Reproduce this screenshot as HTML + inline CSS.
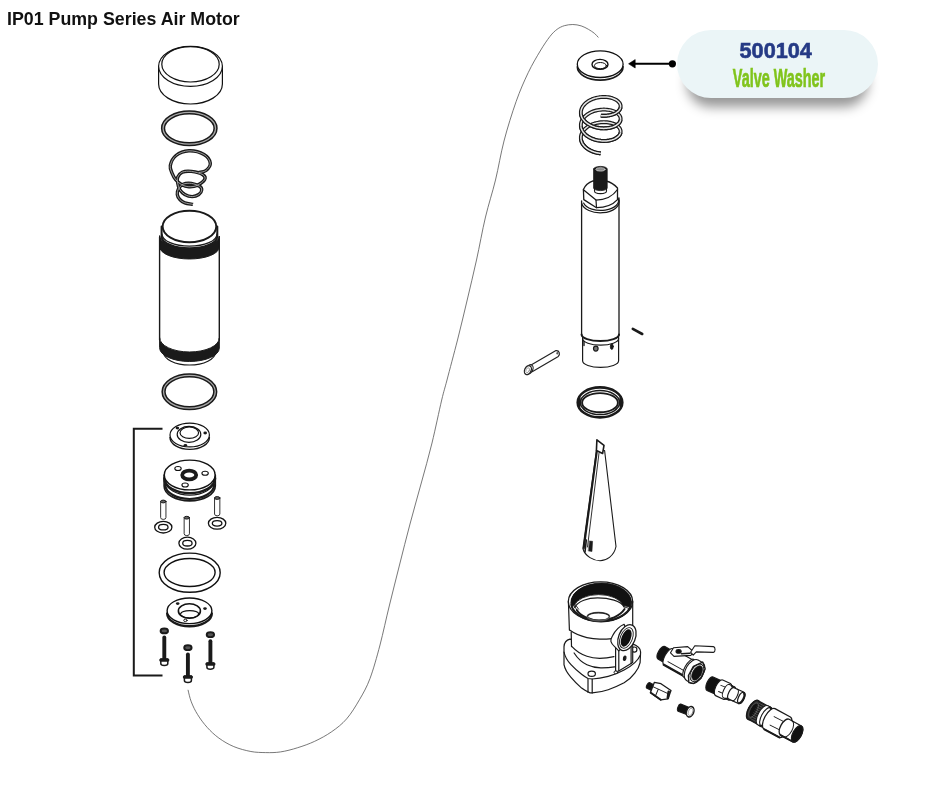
<!DOCTYPE html>
<html><head><meta charset="utf-8">
<style>
html,body{margin:0;padding:0;background:#fff;}
body{width:940px;height:788px;position:relative;overflow:hidden;font-family:"Liberation Sans",sans-serif;}
#title{position:absolute;left:6.6px;top:9.4px;transform:scaleX(1.017);font-weight:bold;font-size:17.5px;color:#111;white-space:nowrap;transform-origin:0 0;}
#pill{position:absolute;left:677px;top:29.5px;width:201px;height:68.5px;border-radius:34.25px;background:#ebf5f7;box-shadow:0 19px 12px -10px rgba(0,0,0,0.41);}
#pn{position:absolute;left:676px;top:38.2px;width:200px;text-align:center;font-weight:bold;font-size:22.6px;color:#253a85;-webkit-text-stroke:0.6px #253a85;}
#pd{position:absolute;left:679px;top:63.6px;width:200px;text-align:center;font-weight:bold;font-size:25.9px;color:#80c41c;-webkit-text-stroke:0.7px #80c41c;}
svg{position:absolute;left:0;top:0;}
#dia{filter:blur(0.35px);}
</style></head><body>
<div id="pill"></div>
<div id="pn"><span style="display:inline-block;transform:scaleX(0.96);">500104</span></div>
<div id="pd"><span style="display:inline-block;transform:scaleX(0.556);">Valve Washer</span></div>
<div id="title">IP01 Pump Series Air Motor</div>
<svg id="dia" width="940" height="788" viewBox="0 0 940 788" fill="none" stroke="#111" stroke-width="1.2" stroke-linecap="round" stroke-linejoin="round">
<!-- CURVE -->
<path d="M188.1 690.2 C188.6 692.2 189.7 697.8 191.3 701.9 C192.9 706.0 195.0 710.5 197.7 714.7 C200.3 719.0 203.7 723.5 207.2 727.4 C210.7 731.3 214.5 734.9 218.9 738.1 C223.3 741.3 228.5 744.4 233.8 746.6 C239.1 748.8 245.6 750.5 250.9 751.5 C256.2 752.5 260.8 752.5 265.7 752.6 C270.6 752.7 275.3 752.7 280.6 751.9 C285.9 751.1 292.0 749.5 297.7 747.7 C303.4 745.9 309.0 744.0 314.7 741.3 C320.4 738.6 326.4 735.4 331.7 731.7 C337.0 728.0 342.0 724.2 346.6 718.9 C351.2 713.6 355.5 706.5 359.4 699.8 C363.3 693.1 366.6 687.6 370.0 678.5 C373.4 669.4 376.8 657.2 380.0 645.0 C383.2 632.8 386.2 618.3 389.5 605.0 C392.8 591.7 396.1 578.5 399.5 565.0 C402.9 551.5 406.4 537.5 410.0 524.0 C413.6 510.5 417.3 497.5 421.0 484.0 C424.7 470.5 428.6 457.0 432.0 443.0 C435.4 429.0 439.2 410.5 441.7 400.0 C444.2 389.5 444.4 390.0 447.0 380.0 C449.6 370.0 454.1 353.3 457.5 340.0 C460.9 326.7 464.0 313.3 467.2 300.0 C470.4 286.7 473.4 273.8 476.5 260.0 C479.6 246.2 482.3 230.3 485.5 217.0 C488.7 203.7 492.4 192.7 495.5 180.0 C498.6 167.3 500.6 154.1 504.0 141.0 C507.4 127.9 512.1 113.0 516.1 101.6 C520.1 90.2 524.2 81.1 528.2 72.7 C532.2 64.3 536.6 57.0 540.2 51.0 C543.8 45.0 547.1 40.1 549.9 36.5 C552.7 32.9 554.7 31.1 557.1 29.3 C559.5 27.5 561.7 26.5 564.3 25.7 C566.9 24.9 570.0 24.5 572.8 24.5 C575.6 24.5 578.6 25.1 581.2 25.9 C583.8 26.7 586.2 28.1 588.4 29.3 C590.6 30.6 592.9 32.1 594.5 33.4 C596.1 34.7 597.5 36.6 598.1 37.2" stroke="#555" stroke-width="0.8"/>
<path d="M158.6 66.3 L158.6 84 A31.9 20 0 0 0 222.4 84 L222.4 66.3" fill="#fff"/>
<ellipse cx="190.5" cy="66.3" rx="31.9" ry="20" fill="#fff"/>
<ellipse cx="190.5" cy="64.3" rx="28.7" ry="17.7" />
<ellipse cx="189.3" cy="128.3" rx="26.25" ry="15.85" stroke="#1a1a1a" stroke-width="4.3"/>
<ellipse cx="189.3" cy="128.3" rx="26.25" ry="15.85" stroke="#a8a8a8" stroke-width="1.2999999999999998"/>
<path d="M198.8 172.6 C200.0 172.2 204.1 172.1 206.0 170.5 C207.9 168.9 210.6 165.9 210.3 163.2 C210.0 160.5 207.6 156.6 204.0 154.5 C200.4 152.4 193.6 150.6 188.9 150.8 C184.2 151.0 179.1 153.0 176.0 155.5 C172.9 158.0 170.9 162.5 170.3 165.6 C169.7 168.7 171.5 171.6 172.4 173.9 C173.3 176.2 174.2 177.9 175.7 179.7 C177.2 181.5 179.3 183.4 181.5 184.6 C183.7 185.8 186.3 186.6 188.9 186.7 C191.5 186.8 194.5 186.6 197.1 185.4 C199.7 184.2 203.6 181.5 204.6 179.7 C205.6 177.9 205.1 176.1 202.9 174.7 C200.7 173.3 194.8 171.8 191.4 171.4 C188.0 171.0 184.6 171.2 182.3 172.2 C180.0 173.2 178.5 175.4 177.7 177.2 C176.9 179.0 177.3 180.9 177.7 183.0 C178.0 185.1 178.6 187.7 179.8 189.6 C181.0 191.5 182.7 193.3 184.8 194.5 C186.9 195.7 189.9 196.6 192.2 196.6 C194.5 196.6 197.2 195.6 198.8 194.5 C200.4 193.4 201.6 191.4 201.7 190.0 C201.8 188.6 201.3 187.4 199.6 186.3 C197.9 185.2 194.2 183.8 191.4 183.4 C188.7 183.1 185.2 183.3 183.1 184.2 C181.0 185.1 179.6 187.0 178.6 188.7 C177.6 190.4 177.1 192.7 177.3 194.5 C177.5 196.3 178.6 198.1 179.8 199.5 C181.1 200.9 182.6 202.0 184.8 202.8 C187.0 203.6 191.6 204.1 193.0 204.4" stroke="#1a1a1a" stroke-width="3.4" stroke-linecap="butt"/>
<path d="M198.8 172.6 C200.0 172.2 204.1 172.1 206.0 170.5 C207.9 168.9 210.6 165.9 210.3 163.2 C210.0 160.5 207.6 156.6 204.0 154.5 C200.4 152.4 193.6 150.6 188.9 150.8 C184.2 151.0 179.1 153.0 176.0 155.5 C172.9 158.0 170.9 162.5 170.3 165.6 C169.7 168.7 171.5 171.6 172.4 173.9 C173.3 176.2 174.2 177.9 175.7 179.7 C177.2 181.5 179.3 183.4 181.5 184.6 C183.7 185.8 186.3 186.6 188.9 186.7 C191.5 186.8 194.5 186.6 197.1 185.4 C199.7 184.2 203.6 181.5 204.6 179.7 C205.6 177.9 205.1 176.1 202.9 174.7 C200.7 173.3 194.8 171.8 191.4 171.4 C188.0 171.0 184.6 171.2 182.3 172.2 C180.0 173.2 178.5 175.4 177.7 177.2 C176.9 179.0 177.3 180.9 177.7 183.0 C178.0 185.1 178.6 187.7 179.8 189.6 C181.0 191.5 182.7 193.3 184.8 194.5 C186.9 195.7 189.9 196.6 192.2 196.6 C194.5 196.6 197.2 195.6 198.8 194.5 C200.4 193.4 201.6 191.4 201.7 190.0 C201.8 188.6 201.3 187.4 199.6 186.3 C197.9 185.2 194.2 183.8 191.4 183.4 C188.7 183.1 185.2 183.3 183.1 184.2 C181.0 185.1 179.6 187.0 178.6 188.7 C177.6 190.4 177.1 192.7 177.3 194.5 C177.5 196.3 178.6 198.1 179.8 199.5 C181.1 200.9 182.6 202.0 184.8 202.8 C187.0 203.6 191.6 204.1 193.0 204.4" stroke="#aaa" stroke-width="0.9" stroke-linecap="butt"/>
<path d="M159.6 237 L159.6 340 A29.85 14 0 0 0 219.3 340 L219.3 237 Z" fill="#fff" stroke="none"/>
<path d="M159.6 236 A29.85 12 0 0 0 219.3 236 L219.3 247 A29.85 12 0 0 1 159.6 247 Z" fill="#1a1a1a" stroke="#1a1a1a" stroke-width="1"/>
<path d="M161.6 226.5 L161.6 237 A27.9 12 0 0 0 217.3 237 L217.3 226.5" fill="#fff" stroke="#1a1a1a" stroke-width="2.0"/>
<path d="M162 234.2 A27.5 12 0 0 0 217 234.2" stroke="#1a1a1a" stroke-width="1.3"/>
<ellipse cx="189.45" cy="226.5" rx="26.8" ry="15.8" fill="#fff" stroke="#1a1a1a" stroke-width="1.9"/>
<path d="M159.6 237 L159.6 340 M219.3 237 L219.3 340" stroke="#1a1a1a" stroke-width="1.4"/>
<path d="M159.6 338 A29.85 14 0 0 0 219.3 338 L219.3 348 A29.85 13.5 0 0 1 159.6 348 Z" fill="#1a1a1a" stroke="#1a1a1a" stroke-width="1"/>
<path d="M163.5 352 A26 13 0 0 0 215.5 352" stroke="#1a1a1a" stroke-width="1.2"/>
<ellipse cx="189.4" cy="391.8" rx="25.85" ry="16.35" stroke="#1a1a1a" stroke-width="4.3"/>
<ellipse cx="189.4" cy="391.8" rx="25.85" ry="16.35" stroke="#a8a8a8" stroke-width="1.2999999999999998"/>
<path d="M162.5 428.8 L133.8 428.8 L133.8 675.5 L162.5 675.5" stroke="#1a1a1a" stroke-width="2" stroke-linecap="butt" stroke-linejoin="miter"/>
<path d="M170.0 437.5 A19.7 11.9 0 0 0 209.39999999999998 437.5" stroke="#1a1a1a" stroke-width="1.4"/>
<ellipse cx="189.7" cy="435" rx="19.7" ry="11.9" fill="#fff"/>
<ellipse cx="189" cy="434.4" rx="11.8" ry="8" />
<ellipse cx="189.3" cy="432.7" rx="9.3" ry="5.7" />
<ellipse cx="177.4" cy="428.1" rx="1.8" ry="1.4" fill="#1a1a1a" stroke="none"/>
<ellipse cx="205.2" cy="433" rx="1.8" ry="1.4" fill="#1a1a1a" stroke="none"/>
<ellipse cx="185.4" cy="445.3" rx="1.8" ry="1.4" fill="#1a1a1a" stroke="none"/>
<path d="M164.1 475 L164.1 486 A25.6 14.9 0 0 0 215.29999999999998 486 L215.29999999999998 475" fill="#fff" stroke="#1a1a1a" stroke-width="1.6"/>
<path d="M165.2 484.5 A24.5 14.5 0 0 0 214.2 484.5" stroke="#1a1a1a" stroke-width="2.2"/>
<path d="M165.7 481 A24 14.2 0 0 0 213.7 481" stroke="#1a1a1a" stroke-width="1.2"/>
<path d="M164.29999999999998 478.2 A25.4 14.9 0 0 0 215.1 478.2" stroke="#1a1a1a" stroke-width="2.4"/>
<ellipse cx="189.7" cy="475" rx="25.4" ry="14.9" fill="#fff" stroke-width="1.4"/>
<ellipse cx="189.2" cy="475" rx="7" ry="4.3" stroke="#1a1a1a" stroke-width="3.8" fill="#fff"/>
<ellipse cx="178" cy="468.5" rx="3.2" ry="2" stroke-width="1.1"/>
<ellipse cx="205.1" cy="473.3" rx="3.2" ry="2" stroke-width="1.1"/>
<ellipse cx="185.1" cy="485" rx="3.2" ry="2" stroke-width="1.1"/>
<path d="M160.65 501.3 L160.65 517.6 A2.65 1.8 0 0 0 165.95000000000002 517.6 L165.95000000000002 501.3" fill="#fff" stroke="#333" stroke-width="1"/>
<ellipse cx="163.3" cy="501.5" rx="2.65" ry="1.4" fill="#666" stroke="#1a1a1a" stroke-width="1"/>
<ellipse cx="163.3" cy="527.2" rx="8.6" ry="5.8" fill="#fff" stroke-width="1.3"/>
<ellipse cx="163.3" cy="527.2" rx="4.73" ry="2.726" stroke-width="1.3"/>
<path d="M184.15 517.5 L184.15 533.8 A2.65 1.8 0 0 0 189.45000000000002 533.8 L189.45000000000002 517.5" fill="#fff" stroke="#333" stroke-width="1"/>
<ellipse cx="186.8" cy="517.7" rx="2.65" ry="1.4" fill="#666" stroke="#1a1a1a" stroke-width="1"/>
<ellipse cx="187.4" cy="543.2" rx="8.5" ry="6.0" fill="#fff" stroke-width="1.3"/>
<ellipse cx="187.4" cy="543.2" rx="4.675000000000001" ry="2.82" stroke-width="1.3"/>
<path d="M214.54999999999998 497.8 L214.54999999999998 514.0 A2.65 1.8 0 0 0 219.85 514.0 L219.85 497.8" fill="#fff" stroke="#333" stroke-width="1"/>
<ellipse cx="217.2" cy="498.0" rx="2.65" ry="1.4" fill="#666" stroke="#1a1a1a" stroke-width="1"/>
<ellipse cx="217.1" cy="523.3" rx="8.7" ry="5.9" fill="#fff" stroke-width="1.3"/>
<ellipse cx="217.1" cy="523.3" rx="4.785" ry="2.773" stroke-width="1.3"/>
<ellipse cx="189.7" cy="572.7" rx="30.5" ry="19.6" stroke-width="1.4"/>
<ellipse cx="189.6" cy="572.5" rx="25.5" ry="14" stroke-width="1.4"/>
<path d="M167.2 613.4 A22.3 12.8 0 0 0 211.8 613.4" stroke="#1a1a1a" stroke-width="2.4"/>
<ellipse cx="189.5" cy="610.8" rx="22.4" ry="12.8" fill="#fff" stroke-width="1.4"/>
<ellipse cx="189.4" cy="611" rx="11" ry="7.2" stroke-width="1.6"/>
<path d="M180.6 613.8 A9.2 3.8 0 0 1 198.8 613.8" stroke-width="1.2"/>
<path d="M181.5 615.3 A8.5 3.4 0 0 0 198 615.3" stroke-width="1.0"/>
<ellipse cx="177.7" cy="603.6" rx="1.8" ry="1.4" fill="#1a1a1a" stroke="none"/>
<ellipse cx="205" cy="608.6" rx="1.8" ry="1.4" fill="#1a1a1a" stroke="none"/>
<ellipse cx="185.4" cy="620.4" rx="1.7" ry="1.2" stroke-width="0.9"/>
<ellipse cx="164.3" cy="630.9" rx="3.7" ry="2.4" fill="#555" stroke="#1a1a1a" stroke-width="1.9"/>
<path d="M164.3 637.5 L164.3 659.5" stroke="#1a1a1a" stroke-width="3.9" stroke-linecap="round"/>
<path d="M160.8 659.0 L160.8 663.5 A3.5 2 0 0 0 167.8 663.5 L167.8 659.0 Z" fill="#fff" stroke="#1a1a1a" stroke-width="1.5"/>
<path d="M160.8 660.1 L167.8 660.1" stroke="#1a1a1a" stroke-width="3.2"/>
<ellipse cx="187.9" cy="647.7" rx="3.7" ry="2.4" fill="#555" stroke="#1a1a1a" stroke-width="1.9"/>
<path d="M187.9 654.5 L187.9 676.5" stroke="#1a1a1a" stroke-width="3.9" stroke-linecap="round"/>
<path d="M184.4 676.0 L184.4 680.4 A3.5 2 0 0 0 191.4 680.4 L191.4 676.0 Z" fill="#fff" stroke="#1a1a1a" stroke-width="1.5"/>
<path d="M184.4 677.1 L191.4 677.1" stroke="#1a1a1a" stroke-width="3.2"/>
<ellipse cx="210.4" cy="634.7" rx="3.7" ry="2.4" fill="#555" stroke="#1a1a1a" stroke-width="1.9"/>
<path d="M210.4 641.2 L210.4 663.5" stroke="#1a1a1a" stroke-width="3.9" stroke-linecap="round"/>
<path d="M206.9 663.0 L206.9 667.3 A3.5 2 0 0 0 213.9 667.3 L213.9 663.0 Z" fill="#fff" stroke="#1a1a1a" stroke-width="1.5"/>
<path d="M206.9 664.1 L213.9 664.1" stroke="#1a1a1a" stroke-width="3.2"/>
<path d="M577.3000000000001 66.8 A22.9 13.3 0 0 0 623.1 66.8" stroke="#1a1a1a" stroke-width="1.6"/>
<ellipse cx="600.2" cy="64.2" rx="22.9" ry="13.3" fill="#fff" stroke-width="1.3"/>
<ellipse cx="600" cy="64.4" rx="8" ry="5" stroke-width="1.4"/>
<ellipse cx="600.4" cy="65.6" rx="6" ry="3.1" stroke-width="1.0"/>
<path d="M600.8 115.6 L602.3 115.7 L603.9 115.8 L605.4 115.7 L606.9 115.6 L608.4 115.4 L609.8 115.2 L611.1 114.9 L612.4 114.5 L613.7 114.0 L614.8 113.5 L615.9 113.0 L616.8 112.4 L617.7 111.7 L618.5 111.0 L619.1 110.3 L619.7 109.6 L620.1 108.8 L620.4 108.0 L620.6 107.2 L620.6 106.4 L620.6 105.5 L620.4 104.7 L620.1 103.9 L619.7 103.1 L619.1 102.4 L618.5 101.7 L617.7 101.0 L616.8 100.3 L615.9 99.7 L614.8 99.2 L613.7 98.7 L612.4 98.2 L611.1 97.8 L609.8 97.5 L608.4 97.3 L606.9 97.1 L605.4 97.0 L603.9 96.9 L602.3 97.0 L600.8 97.1 L599.2 97.3 L597.6 97.6 L596.1 97.9 L594.6 98.3 L593.1 98.8 L591.7 99.4 L590.4 100.0 L589.1 100.7 L587.8 101.5 L586.7 102.3 L585.6 103.2 L584.7 104.1 L583.8 105.1 L583.0 106.1 L582.4 107.1 L581.8 108.2 L581.4 109.3 L581.1 110.4 L580.9 111.5 L580.9 112.7 L580.9 113.8 L581.1 114.9 L581.4 116.0 L581.8 117.1 L582.4 118.2 L583.0 119.2 L583.8 120.2 L584.7 121.2 L585.6 122.1 L586.7 123.0 L587.8 123.8 L589.1 124.6 L590.4 125.3 L591.7 125.9 L593.1 126.5 L594.6 127.0 L596.1 127.4 L597.6 127.7 L599.2 128.0 L600.8 128.2 L602.3 128.3 L603.9 128.4 L605.4 128.3 L606.9 128.2 L608.4 128.0 L609.8 127.8 L611.1 127.5 L612.4 127.1 L613.7 126.6 L614.8 126.1 L615.9 125.6 L616.8 125.0 L617.7 124.3 L618.5 123.6 L619.1 122.9 L619.7 122.2 L620.1 121.4 L620.4 120.6 L620.6 119.8 L620.6 119.0 L620.6 118.1 L620.4 117.3 L620.1 116.5 L619.7 115.7 L619.1 115.0 L618.5 114.3 L617.7 113.6 L616.8 112.9 L615.9 112.3 L614.8 111.8 L613.7 111.3 L612.4 110.8 L611.1 110.4 L609.8 110.1 L608.4 109.9 L606.9 109.7 L605.4 109.6 L603.9 109.5 L602.3 109.6 L600.8 109.7 L599.2 109.9 L597.6 110.2 L596.1 110.5 L594.6 110.9 L593.1 111.4 L591.7 112.0 L590.4 112.6 L589.1 113.3 L587.8 114.1 L586.7 114.9 L585.6 115.8 L584.7 116.7 L583.8 117.7 L583.0 118.7 L582.4 119.7 L581.8 120.8 L581.4 121.9 L581.1 123.0 L580.9 124.1 L580.9 125.2 L580.9 126.4 L581.1 127.5 L581.4 128.6 L581.8 129.7 L582.4 130.8 L583.0 131.8 L583.8 132.8 L584.7 133.8 L585.6 134.7 L586.7 135.6 L587.8 136.4 L589.1 137.2 L590.4 137.9 L591.7 138.5 L593.1 139.1 L594.6 139.6 L596.1 140.0 L597.6 140.3 L599.2 140.6 L600.8 140.8 L602.3 140.9 L603.9 141.0 L605.4 140.9 L606.9 140.8 L608.4 140.6 L609.8 140.4 L611.1 140.1 L612.4 139.7 L613.7 139.2 L614.8 138.7 L615.9 138.2 L616.8 137.6 L617.7 136.9 L618.5 136.2 L619.1 135.5 L619.7 134.8 L620.1 134.0 L620.4 133.2 L620.6 132.4 L620.6 131.6 L620.6 130.7 L620.4 129.9 L620.1 129.1 L619.7 128.3 L619.1 127.6 L618.5 126.9 L617.7 126.2 L616.8 125.5 L615.9 124.9 L614.8 124.4 L613.7 123.9 L612.4 123.4 L611.1 123.0 L609.8 122.7 L608.4 122.5 L606.9 122.3 L605.4 122.2 L603.9 122.1 L602.3 122.2 L600.8 122.3 L599.2 122.5 L597.6 122.8 L596.1 123.1 L594.6 123.5 L593.1 124.0 L591.7 124.6 L590.4 125.2 L589.1 125.9 L587.8 126.7 L586.7 127.5 L585.6 128.4 L584.7 129.3 L583.8 130.3 L583.0 131.3 L582.4 132.3 L581.8 133.4 L581.4 134.5 L581.1 135.6 L580.9 136.7 L580.9 137.8 L580.9 139.0 L581.1 140.1 L581.4 141.2 L581.8 142.3 L582.4 143.4 L583.0 144.4 L583.8 145.4 L584.7 146.4 L585.6 147.3 L586.7 148.2 L587.8 149.0 L589.1 149.8 L590.4 150.5 L591.7 151.1 L593.1 151.7 L594.6 152.2 L596.1 152.6 L597.6 152.9 L599.2 153.2 L600.8 153.4" stroke="#1a1a1a" stroke-width="3.9" stroke-linecap="butt"/>
<path d="M600.8 115.6 L602.3 115.7 L603.9 115.8 L605.4 115.7 L606.9 115.6 L608.4 115.4 L609.8 115.2 L611.1 114.9 L612.4 114.5 L613.7 114.0 L614.8 113.5 L615.9 113.0 L616.8 112.4 L617.7 111.7 L618.5 111.0 L619.1 110.3 L619.7 109.6 L620.1 108.8 L620.4 108.0 L620.6 107.2 L620.6 106.4 L620.6 105.5 L620.4 104.7 L620.1 103.9 L619.7 103.1 L619.1 102.4 L618.5 101.7 L617.7 101.0 L616.8 100.3 L615.9 99.7 L614.8 99.2 L613.7 98.7 L612.4 98.2 L611.1 97.8 L609.8 97.5 L608.4 97.3 L606.9 97.1 L605.4 97.0 L603.9 96.9 L602.3 97.0 L600.8 97.1 L599.2 97.3 L597.6 97.6 L596.1 97.9 L594.6 98.3 L593.1 98.8 L591.7 99.4 L590.4 100.0 L589.1 100.7 L587.8 101.5 L586.7 102.3 L585.6 103.2 L584.7 104.1 L583.8 105.1 L583.0 106.1 L582.4 107.1 L581.8 108.2 L581.4 109.3 L581.1 110.4 L580.9 111.5 L580.9 112.7 L580.9 113.8 L581.1 114.9 L581.4 116.0 L581.8 117.1 L582.4 118.2 L583.0 119.2 L583.8 120.2 L584.7 121.2 L585.6 122.1 L586.7 123.0 L587.8 123.8 L589.1 124.6 L590.4 125.3 L591.7 125.9 L593.1 126.5 L594.6 127.0 L596.1 127.4 L597.6 127.7 L599.2 128.0 L600.8 128.2 L602.3 128.3 L603.9 128.4 L605.4 128.3 L606.9 128.2 L608.4 128.0 L609.8 127.8 L611.1 127.5 L612.4 127.1 L613.7 126.6 L614.8 126.1 L615.9 125.6 L616.8 125.0 L617.7 124.3 L618.5 123.6 L619.1 122.9 L619.7 122.2 L620.1 121.4 L620.4 120.6 L620.6 119.8 L620.6 119.0 L620.6 118.1 L620.4 117.3 L620.1 116.5 L619.7 115.7 L619.1 115.0 L618.5 114.3 L617.7 113.6 L616.8 112.9 L615.9 112.3 L614.8 111.8 L613.7 111.3 L612.4 110.8 L611.1 110.4 L609.8 110.1 L608.4 109.9 L606.9 109.7 L605.4 109.6 L603.9 109.5 L602.3 109.6 L600.8 109.7 L599.2 109.9 L597.6 110.2 L596.1 110.5 L594.6 110.9 L593.1 111.4 L591.7 112.0 L590.4 112.6 L589.1 113.3 L587.8 114.1 L586.7 114.9 L585.6 115.8 L584.7 116.7 L583.8 117.7 L583.0 118.7 L582.4 119.7 L581.8 120.8 L581.4 121.9 L581.1 123.0 L580.9 124.1 L580.9 125.2 L580.9 126.4 L581.1 127.5 L581.4 128.6 L581.8 129.7 L582.4 130.8 L583.0 131.8 L583.8 132.8 L584.7 133.8 L585.6 134.7 L586.7 135.6 L587.8 136.4 L589.1 137.2 L590.4 137.9 L591.7 138.5 L593.1 139.1 L594.6 139.6 L596.1 140.0 L597.6 140.3 L599.2 140.6 L600.8 140.8 L602.3 140.9 L603.9 141.0 L605.4 140.9 L606.9 140.8 L608.4 140.6 L609.8 140.4 L611.1 140.1 L612.4 139.7 L613.7 139.2 L614.8 138.7 L615.9 138.2 L616.8 137.6 L617.7 136.9 L618.5 136.2 L619.1 135.5 L619.7 134.8 L620.1 134.0 L620.4 133.2 L620.6 132.4 L620.6 131.6 L620.6 130.7 L620.4 129.9 L620.1 129.1 L619.7 128.3 L619.1 127.6 L618.5 126.9 L617.7 126.2 L616.8 125.5 L615.9 124.9 L614.8 124.4 L613.7 123.9 L612.4 123.4 L611.1 123.0 L609.8 122.7 L608.4 122.5 L606.9 122.3 L605.4 122.2 L603.9 122.1 L602.3 122.2 L600.8 122.3 L599.2 122.5 L597.6 122.8 L596.1 123.1 L594.6 123.5 L593.1 124.0 L591.7 124.6 L590.4 125.2 L589.1 125.9 L587.8 126.7 L586.7 127.5 L585.6 128.4 L584.7 129.3 L583.8 130.3 L583.0 131.3 L582.4 132.3 L581.8 133.4 L581.4 134.5 L581.1 135.6 L580.9 136.7 L580.9 137.8 L580.9 139.0 L581.1 140.1 L581.4 141.2 L581.8 142.3 L582.4 143.4 L583.0 144.4 L583.8 145.4 L584.7 146.4 L585.6 147.3 L586.7 148.2 L587.8 149.0 L589.1 149.8 L590.4 150.5 L591.7 151.1 L593.1 151.7 L594.6 152.2 L596.1 152.6 L597.6 152.9 L599.2 153.2 L600.8 153.4" stroke="#e8e8e8" stroke-width="1.5" stroke-linecap="butt"/>
<path d="M600.8 115.6 L601.5 115.7 L602.2 115.7 L602.9 115.7 L603.7 115.8 L604.4 115.8 L605.1 115.7 L605.8 115.7 L606.5 115.7 L607.2 115.6 L607.9 115.5 L608.6 115.4 L609.3 115.3 L609.9 115.2 L610.6 115.0 L611.2 114.9 L611.8 114.7 L612.4 114.5 L613.0 114.3 L613.6 114.1 L614.1 113.9 L614.7 113.6 L615.2 113.4 L615.7 113.1 L616.2 112.8 L616.6 112.5 L617.0 112.2 L617.5 111.9 L617.8 111.6 L618.2 111.3 L618.6 111.0 L618.9 110.6 L619.2 110.3 L619.4 109.9 L619.7 109.6 L619.9 109.2 L620.1 108.8 L620.2 108.5 L620.4 108.1 L620.5 107.7 L620.6 107.3" stroke="#1a1a1a" stroke-width="3.9" stroke-linecap="butt"/>
<path d="M600.8 115.6 L601.5 115.7 L602.2 115.7 L602.9 115.7 L603.7 115.8 L604.4 115.8 L605.1 115.7 L605.8 115.7 L606.5 115.7 L607.2 115.6 L607.9 115.5 L608.6 115.4 L609.3 115.3 L609.9 115.2 L610.6 115.0 L611.2 114.9 L611.8 114.7 L612.4 114.5 L613.0 114.3 L613.6 114.1 L614.1 113.9 L614.7 113.6 L615.2 113.4 L615.7 113.1 L616.2 112.8 L616.6 112.5 L617.0 112.2 L617.5 111.9 L617.8 111.6 L618.2 111.3 L618.6 111.0 L618.9 110.6 L619.2 110.3 L619.4 109.9 L619.7 109.6 L619.9 109.2 L620.1 108.8 L620.2 108.5 L620.4 108.1 L620.5 107.7 L620.6 107.3" stroke="#e8e8e8" stroke-width="1.5" stroke-linecap="butt"/>
<path d="M580.9 114.0 L581.1 115.1 L581.4 116.1 L581.8 117.1 L582.3 118.1 L582.9 119.1 L583.7 120.1 L584.5 121.0 L585.3 121.9 L586.3 122.7 L587.4 123.5 L588.5 124.2 L589.7 124.9 L590.9 125.5 L592.2 126.1 L593.6 126.6 L595.0 127.1 L596.4 127.5 L597.8 127.8 L599.3 128.0 L600.8 128.2 L602.2 128.3 L603.7 128.4 L605.1 128.3 L606.5 128.3 L607.9 128.1 L609.3 127.9 L610.6 127.6 L611.8 127.3 L613.0 126.9 L614.1 126.5 L615.2 126.0 L616.2 125.4 L617.0 124.8 L617.8 124.2 L618.6 123.6 L619.2 122.9 L619.7 122.2 L620.1 121.4 L620.4 120.7 L620.6 119.9" stroke="#1a1a1a" stroke-width="3.9" stroke-linecap="butt"/>
<path d="M580.9 114.0 L581.1 115.1 L581.4 116.1 L581.8 117.1 L582.3 118.1 L582.9 119.1 L583.7 120.1 L584.5 121.0 L585.3 121.9 L586.3 122.7 L587.4 123.5 L588.5 124.2 L589.7 124.9 L590.9 125.5 L592.2 126.1 L593.6 126.6 L595.0 127.1 L596.4 127.5 L597.8 127.8 L599.3 128.0 L600.8 128.2 L602.2 128.3 L603.7 128.4 L605.1 128.3 L606.5 128.3 L607.9 128.1 L609.3 127.9 L610.6 127.6 L611.8 127.3 L613.0 126.9 L614.1 126.5 L615.2 126.0 L616.2 125.4 L617.0 124.8 L617.8 124.2 L618.6 123.6 L619.2 122.9 L619.7 122.2 L620.1 121.4 L620.4 120.7 L620.6 119.9" stroke="#e8e8e8" stroke-width="1.5" stroke-linecap="butt"/>
<path d="M580.9 126.6 L581.1 127.7 L581.4 128.7 L581.8 129.7 L582.3 130.7 L582.9 131.7 L583.7 132.7 L584.5 133.6 L585.3 134.5 L586.3 135.3 L587.4 136.1 L588.5 136.8 L589.7 137.5 L590.9 138.1 L592.2 138.7 L593.6 139.2 L595.0 139.7 L596.4 140.1 L597.8 140.4 L599.3 140.6 L600.8 140.8 L602.2 140.9 L603.7 141.0 L605.1 140.9 L606.5 140.9 L607.9 140.7 L609.3 140.5 L610.6 140.2 L611.8 139.9 L613.0 139.5 L614.1 139.1 L615.2 138.6 L616.2 138.0 L617.0 137.4 L617.8 136.8 L618.6 136.2 L619.2 135.5 L619.7 134.8 L620.1 134.0 L620.4 133.3 L620.6 132.5" stroke="#1a1a1a" stroke-width="3.9" stroke-linecap="butt"/>
<path d="M580.9 126.6 L581.1 127.7 L581.4 128.7 L581.8 129.7 L582.3 130.7 L582.9 131.7 L583.7 132.7 L584.5 133.6 L585.3 134.5 L586.3 135.3 L587.4 136.1 L588.5 136.8 L589.7 137.5 L590.9 138.1 L592.2 138.7 L593.6 139.2 L595.0 139.7 L596.4 140.1 L597.8 140.4 L599.3 140.6 L600.8 140.8 L602.2 140.9 L603.7 141.0 L605.1 140.9 L606.5 140.9 L607.9 140.7 L609.3 140.5 L610.6 140.2 L611.8 139.9 L613.0 139.5 L614.1 139.1 L615.2 138.6 L616.2 138.0 L617.0 137.4 L617.8 136.8 L618.6 136.2 L619.2 135.5 L619.7 134.8 L620.1 134.0 L620.4 133.3 L620.6 132.5" stroke="#e8e8e8" stroke-width="1.5" stroke-linecap="butt"/>
<path d="M580.9 139.2 L581.0 139.7 L581.1 140.3 L581.3 140.8 L581.4 141.3 L581.6 141.8 L581.8 142.3 L582.1 142.8 L582.3 143.3 L582.6 143.8 L582.9 144.3 L583.3 144.8 L583.7 145.3 L584.0 145.7 L584.5 146.2 L584.9 146.6 L585.3 147.1 L585.8 147.5 L586.3 147.9 L586.8 148.3 L587.4 148.7 L587.9 149.1 L588.5 149.4 L589.1 149.8 L589.7 150.1 L590.3 150.4 L590.9 150.7 L591.6 151.0 L592.2 151.3 L592.9 151.6 L593.6 151.8 L594.3 152.1 L595.0 152.3 L595.7 152.5 L596.4 152.7 L597.1 152.8 L597.8 153.0 L598.6 153.1 L599.3 153.2 L600.0 153.3 L600.8 153.4" stroke="#1a1a1a" stroke-width="3.9" stroke-linecap="butt"/>
<path d="M580.9 139.2 L581.0 139.7 L581.1 140.3 L581.3 140.8 L581.4 141.3 L581.6 141.8 L581.8 142.3 L582.1 142.8 L582.3 143.3 L582.6 143.8 L582.9 144.3 L583.3 144.8 L583.7 145.3 L584.0 145.7 L584.5 146.2 L584.9 146.6 L585.3 147.1 L585.8 147.5 L586.3 147.9 L586.8 148.3 L587.4 148.7 L587.9 149.1 L588.5 149.4 L589.1 149.8 L589.7 150.1 L590.3 150.4 L590.9 150.7 L591.6 151.0 L592.2 151.3 L592.9 151.6 L593.6 151.8 L594.3 152.1 L595.0 152.3 L595.7 152.5 L596.4 152.7 L597.1 152.8 L597.8 153.0 L598.6 153.1 L599.3 153.2 L600.0 153.3 L600.8 153.4" stroke="#e8e8e8" stroke-width="1.5" stroke-linecap="butt"/>
<path d="M581.6 200 L581.6 335 A18.7 6.3 0 0 0 619.0 335 L619.0 200 Z" fill="#fff" stroke="none"/>
<path d="M581.6 201 L581.6 335 M619.0 198 L619.0 335" stroke="#1a1a1a" stroke-width="1.3"/>
<path d="M581.6 203.2 A18.7 11 0 0 0 619.0 200.2" stroke="#1a1a1a" stroke-width="1.2"/>
<path d="M583.6 203 A17 9.5 0 0 0 618.0 198" stroke="#1a1a1a" stroke-width="1.2"/>
<path d="M583.4 189.5 L583.8 199.6 L596.5 207.7 C606 207.5 613 204.5 617.5 199.6 L617.5 188 C614 184 610 182 606 181 L593 180.8 C588 182.5 585 185.5 583.4 189.5 Z" fill="#fff" stroke="#1a1a1a" stroke-width="1.3"/>
<path d="M583.4 189.8 L596 200.1 C605 200 613 196 617.5 189.5" stroke="#1a1a1a" stroke-width="1.3"/>
<path d="M596 200.1 L596.5 207.7" stroke="#1a1a1a" stroke-width="1.2"/>
<path d="M594.5 188 L594.5 191 A6 2.6 0 0 0 606.5 191 L606.5 188 Z" fill="#fff" stroke="#1a1a1a" stroke-width="1.1"/>
<path d="M593.6 169 L593.6 188 A6.8 2.6 0 0 0 607.2 188 L607.2 169 A6.8 2.6 0 0 0 593.6 169 Z" fill="#1a1a1a" stroke="#1a1a1a" stroke-width="0.8"/>
<ellipse cx="600.4" cy="169.4" rx="4.6" ry="1.7" fill="#888" stroke="#ccc" stroke-width="0.8"/>
<path d="M582.6 337 L582.6 360.8 A18 6.6 0 0 0 618.6 360.8 L618.6 337" fill="#fff" stroke="#1a1a1a" stroke-width="1.2"/>
<path d="M581.6 334.5 A18.7 6.6 0 0 0 619.0 334.5" stroke="#1a1a1a" stroke-width="2.0"/>
<path d="M582.6 338.6 A18 6.6 0 0 0 618.6 338.6" stroke="#1a1a1a" stroke-width="1.2"/>
<ellipse cx="595.8" cy="348.6" rx="2.3" ry="2.5" fill="#777" stroke="#1a1a1a" stroke-width="1.2"/>
<ellipse cx="611.8" cy="346.6" rx="1.5" ry="2.8" fill="#1a1a1a" stroke="#1a1a1a" stroke-width="0.8"/>
<path d="M584 341.5 L584 345.5" stroke="#1a1a1a" stroke-width="1.4"/>
<path d="M632.8 328.8 L642.2 334" stroke="#1a1a1a" stroke-width="2.6" stroke-linecap="round"/>
<path d="M530.2 365.6 L556 350.6 C559.5 350.2 560.3 354.5 558.3 356.4 L532.6 371.6 Z" fill="#fff" stroke="#222" stroke-width="1.2"/>
<ellipse cx="529.6" cy="369.2" rx="3.2" ry="4.7" transform="rotate(25 529.6 369.2)" fill="#fff" stroke="#222" stroke-width="1.2"/>
<ellipse cx="527.9" cy="370.1" rx="3.2" ry="4.7" transform="rotate(25 527.9 370.1)" fill="#fff" stroke="#222" stroke-width="1.3"/>
<ellipse cx="527.7" cy="370.2" rx="1.6" ry="2.6" transform="rotate(25 527.7 370.2)" fill="none" stroke="#888" stroke-width="0.7"/>
<ellipse cx="557.3" cy="353.3" rx="0.9" ry="1.2" fill="#555" stroke="none"/>
<ellipse cx="600" cy="402.4" rx="22.3" ry="15" stroke="#1a1a1a" stroke-width="2.6" fill="#fff"/>
<ellipse cx="600" cy="402.6" rx="19.6" ry="12" stroke="#1a1a1a" stroke-width="1.5"/>
<ellipse cx="600" cy="402.7" rx="17.9" ry="9.6" stroke="#1a1a1a" stroke-width="1.9"/>
<path d="M579.5 398 L579.5 406 M620.5 398 L620.5 406" stroke="#1a1a1a" stroke-width="2.2"/>
<path d="M596.4 450.5 L582.9 548.5 C585 556.5 594 560.7 600 560.7 C606 560.6 614 556.5 616 546.5 L604.6 450.5 Z" fill="#fff" stroke="#1a1a1a" stroke-width="1.1"/>
<path d="M597 450 L583.8 548" stroke="#1a1a1a" stroke-width="2.0"/>
<path d="M599 453 L587.5 547" stroke="#1a1a1a" stroke-width="0.9"/>
<path d="M596.9 439.9 L604 445.4 L602.6 453.5 L596.4 450.5 Z" fill="#fff" stroke="#1a1a1a" stroke-width="1.6"/>
<path d="M589.5 541 L592.6 541.3 L592 551.5 L588.6 551 Z" fill="#1a1a1a" stroke="#1a1a1a" stroke-width="0.5"/>
<path d="M586.3 540 L585 552" stroke="#1a1a1a" stroke-width="1.6"/>
<g id="base" stroke="#1a1a1a" stroke-width="1.2" fill="none">
<!-- flange -->
<path d="M569.9 639.1 C566.5 640 564.2 643 564 646.6 L564 664.7 C565 670 568 674 571 677.4 C574 681 578 685 581.6 688.1 C584.5 690.3 587 691.8 590.1 692.9 L592.2 692.9 C598 692.6 603 691.5 608.2 689.7 C614 687.6 619.5 685.3 624.1 682.8 C628.5 680.2 632 677 634.8 673.2 C637.3 670 639.3 666.5 640.1 662.6 L640.6 651.9 C640.5 648.5 637 645.5 632.7 643.9 Z" fill="#fff"/>
<path d="M564 652 C565 657 568 661.5 571 664.7 C574 668 578 671.5 581.6 674.3 C584 676.2 586 677.6 588 678.5 L592.2 679 C598 678.8 603 677.8 608.2 676.4 C614 674.8 619.5 672.6 624.1 670 C628.5 667.6 632 665.3 634.8 662.6 C637.3 660.3 639.3 657.6 640.4 655"/>
<path d="M588 679 L588 692.3 M592.2 679 L592.2 692.9"/>
<ellipse cx="591.7" cy="673.7" rx="3.7" ry="2.6" fill="#fff"/>
<ellipse cx="634.3" cy="649.6" rx="2.6" ry="2.6" fill="#fff"/>
<!-- body -->
<path d="M568.4 601.6 L569.4 630 L571.2 632 L571.5 646.6 L574.1 653 C578 659 582 662.5 586.9 664.7 C591 666.6 596 667.7 600.7 667.9 C606 668 610 667.6 614.6 666.8 L632.7 645 L632.7 601.6 Z" fill="#fff" stroke="none"/>
<path d="M568.4 601.6 L569.4 630 M571.2 632 L571.5 646.6 M632.7 601.6 L632.7 626"/>
<path d="M569.6 630.1 C575 634 581 636.3 586.9 637.6 C591 638.5 595 639 599.7 639.1 C604 639.1 608 639 612.4 638.6"/>
<path d="M572 646.6 C576 651 581 654.3 586.9 656.2 C591 657.5 595 658.1 599.7 658.3 C605 658.3 609 657.8 614 656.7"/>
<path d="M574.1 653 C578 659 582 662.5 586.9 664.7 C591 666.6 596 667.7 600.7 667.9 C606 668 610 667.6 614.6 666.8"/>
<!-- bracket plate -->
<path d="M615.6 648 L615.6 671.6 L618.8 671 L631.1 663.6 L632.7 662.3 L632.7 643 Z" fill="#fff"/>
<path d="M618.8 650.9 L618.8 671 M631.1 645.5 L631.1 663.6"/>
<ellipse cx="615.8" cy="672.3" rx="1.8" ry="1.4" fill="#fff" stroke-width="1"/>
<ellipse cx="624.7" cy="658.3" rx="1.2" ry="2.2" fill="#1a1a1a" transform="rotate(15 624.7 658.3)"/>
<!-- port boss -->
<path d="M624.1 624.3 C619 626.5 615 631 612.4 636 C611 638.5 610.6 640 610.9 641.3 C611.5 643.5 613 645.2 614.6 646.6 L618.8 650.9 L630 640 Z" fill="#fff"/>
<ellipse cx="626.9" cy="637.7" rx="8.3" ry="13.6" transform="rotate(22 626.9 637.7)" fill="#fff" stroke-width="1.3"/>
<ellipse cx="626.4" cy="637.9" rx="6" ry="10.8" transform="rotate(22 626.4 637.9)" stroke-width="0.9"/>
<ellipse cx="626.2" cy="638" rx="4.6" ry="9.2" transform="rotate(22 626.2 638)" fill="#111" stroke="none"/>
<!-- top rim -->
<ellipse cx="600.5" cy="601.6" rx="32.2" ry="19.7" fill="#fff" stroke-width="1.3"/>
<ellipse cx="601" cy="602.9" rx="30" ry="18.9" fill="#fff" stroke-width="1.2"/>
<path d="M572 606 A30 18.9 0 1 1 630.4 606.6 L623 605.4 A24.8 13.3 0 0 0 574.3 605.4 Z" fill="#111" stroke="#111" stroke-width="0.8"/>
<path d="M574.7 607.5 C578 601 588 597.9 597.6 597.9 C609 597.9 621 601 624.1 606.9" stroke-width="1.3"/>
<path d="M576.8 610 C580 615.5 589 620 599 620.4 C610 620.4 620 616 624.6 609" stroke-width="2"/>
<path d="M571.3 604.8 A30 18.9 0 0 0 631 601.6" stroke-width="1.7"/>
<path d="M624.1 606.9 L629.5 608.5 M623.4 605.6 L630 606.8" stroke-width="0.9"/>
<ellipse cx="598.4" cy="616.6" rx="11" ry="4" stroke="#555" stroke-width="1.6"/>
<path d="M587.6 615.6 A11 3.6 0 0 1 609.2 615.6" stroke="#1a1a1a" stroke-width="1"/>
<path d="M574.3 606 L577 610.2 M575.6 605 L578.6 609.2" stroke-width="0.9"/>
</g>
<g transform="translate(664 654.3) rotate(29.4)" stroke="#1a1a1a" stroke-width="1.1" fill="none"><path d="M-3 -7.2 L6 -7.2 A3.2 7.2 0 0 1 6 7.2 L-3 7.2 A3.2 7.2 0 0 1 -3 -7.2 Z" fill="#111" stroke="#1a1a1a" stroke-width="1.1"/><path d="M5 -9.2 L29.5 -9.2 A3.5 9.2 0 0 1 29.5 9.2 L5 9.2 A3.5 9.2 0 0 1 5 -9.2 Z" fill="#fff" stroke="#1a1a1a" stroke-width="1.1"/><path d="M5 9.2 L29.5 9.2" stroke-width="2.4"/><path d="M7 4.5 L27 4.5" stroke-width="0.9"/><path d="M28.5 -10.2 L32.5 -10.2 A4 10.2 0 0 1 32.5 10.2 L28.5 10.2 A4 10.2 0 0 1 28.5 -10.2 Z" fill="#fff" stroke="#1a1a1a" stroke-width="1.1"/><path d="M32.5 -11.8 L37.5 -11.8 A6.5 11.8 0 0 1 37.5 11.8 L32.5 11.8 A6.5 11.8 0 0 1 32.5 -11.8 Z" fill="#fff" stroke="#1a1a1a" stroke-width="1.1"/><path d="M37.5 -12.2 L43 -7.5 L44 2.5 L40 11 L35.5 12.4 L31.7 6.5 L31.5 -4 Z" fill="#fff" stroke-width="1.4"/><ellipse cx="37.8" cy="0" rx="5.8" ry="9.6" fill="none" stroke="#1a1a1a" stroke-width="0.9"/><ellipse cx="38" cy="0" rx="4.4" ry="8" fill="#111" stroke="#1a1a1a" stroke-width="0.6"/></g>
<g stroke="#1a1a1a" stroke-width="1.1" fill="#fff"><path d="M673.5 647.8 L687.7 646.6 L693.8 652 L690.8 655.4 L674 656.4 L670.5 652.8 Z"/><path d="M690.6 652.2 L694.8 645.7 L713.4 646.6 C715.6 647 715.6 652 713.4 652.4 L696.3 651.9 L693.2 655.2 Z"/><ellipse cx="678.6" cy="651.4" rx="2.6" ry="1.9" fill="#111"/><path d="M681.5 653.8 L690 653.2" stroke-width="1.6"/></g>
<g transform="translate(650.6 686.6) rotate(26.5)" stroke="#1a1a1a" stroke-width="1.1" fill="none"><path d="M-2.5 -3.2 L2 -3.2 A1.5 3.2 0 0 1 2 3.2 L-2.5 3.2 A1.5 3.2 0 0 1 -2.5 -3.2 Z" fill="#111" stroke="#1a1a1a" stroke-width="1.1"/><path d="M1.5 -5.5 L8 -7.2 L20 -5.6 L21 3.2 L15 7.4 L2.5 5.6 Z" fill="#fff" stroke-width="1.3"/><path d="M2 -1 L20.5 -1.5 M8 -1.2 L8.5 6.5" stroke-width="1"/><path d="M18.5 -3.5 L20.5 2.5" stroke-width="2.6"/><path d="M3 5.4 L15 7.2" stroke-width="1.8"/></g>
<g transform="translate(680.8 708.2) rotate(21)" stroke="#1a1a1a" stroke-width="1.1" fill="none"><path d="M-1.5 -3.8 L7 -3.8 A1.6 3.8 0 0 1 7 3.8 L-1.5 3.8 A1.6 3.8 0 0 1 -1.5 -3.8 Z" fill="#111" stroke="#1a1a1a" stroke-width="1.1"/><ellipse cx="10" cy="0" rx="3.6" ry="5.4" fill="#fff" stroke="#1a1a1a" stroke-width="1.5"/><ellipse cx="10.4" cy="0" rx="2.2" ry="3.8" fill="none" stroke="#888" stroke-width="0.7"/></g>
<g transform="translate(711.4 684.3) rotate(24.5)" stroke="#1a1a1a" stroke-width="1.1" fill="none"><path d="M-1.5 -7.4 L9 -7.4 A3.2 7.4 0 0 1 9 7.4 L-1.5 7.4 A3.2 7.4 0 0 1 -1.5 -7.4 Z" fill="#111" stroke="#1a1a1a" stroke-width="1.1"/><path d="M8.5 -8.6 L17 -8.6 A3.6 8.6 0 0 1 17 8.6 L8.5 8.6 A3.6 8.6 0 0 1 8.5 -8.6 Z" fill="#fff" stroke="#1a1a1a" stroke-width="1.2"/><path d="M9 -3 L17.5 -3.5 M9.5 3.6 L18 3.4" stroke-width="0.9"/><path d="M16.5 -7.2 L22.5 -7.2 A3 7.2 0 0 1 22.5 7.2 L16.5 7.2 A3 7.2 0 0 1 16.5 -7.2 Z" fill="#fff" stroke="#1a1a1a" stroke-width="1.1"/><path d="M19.2 -7 A3 7 0 0 1 19.2 7" stroke-width="2"/><path d="M21.8 -6.8 A3 7 0 0 1 21.8 6.8" stroke-width="1.6"/><path d="M22 -6.3 L32.5 -6.3 A2.8 6.3 0 0 1 32.5 6.3 L22 6.3 A2.8 6.3 0 0 1 22 -6.3 Z" fill="#fff" stroke="#1a1a1a" stroke-width="1.2"/><path d="M25.5 -6.3 A2.8 6.3 0 0 1 25.5 6.3" stroke-width="1"/><ellipse cx="32.7" cy="0" rx="2.7" ry="5.9" fill="#fff" stroke="#1a1a1a" stroke-width="1.3"/><path d="M33.4 -5.6 A2.7 5.9 0 0 1 33 5.8" stroke-width="2.2"/></g>
<g transform="translate(753.2 710.0) rotate(28.5)" stroke="#1a1a1a" stroke-width="1.1" fill="none"><path d="M0 -10.6 L11 -10.6 A4.8 10.6 0 0 1 11 10.6 L0 10.6 A4.8 10.6 0 0 1 0 -10.6 Z" fill="#222" stroke="#1a1a1a" stroke-width="1.1"/><ellipse cx="0" cy="0" rx="4.8" ry="10.6" fill="#333" stroke="#1a1a1a" stroke-width="1.6"/><ellipse cx="0.4" cy="0" rx="3.4" ry="8" fill="#111" stroke="#666" stroke-width="0.6"/><path d="M2 -8.8 L11 -8.8" stroke="#777" stroke-width="0.5"/><path d="M2 -6.6000000000000005 L11 -6.6000000000000005" stroke="#777" stroke-width="0.5"/><path d="M2 -4.4 L11 -4.4" stroke="#777" stroke-width="0.5"/><path d="M2 -2.2 L11 -2.2" stroke="#777" stroke-width="0.5"/><path d="M2 0.0 L11 0.0" stroke="#777" stroke-width="0.5"/><path d="M2 2.2 L11 2.2" stroke="#777" stroke-width="0.5"/><path d="M2 4.4 L11 4.4" stroke="#777" stroke-width="0.5"/><path d="M2 6.6000000000000005 L11 6.6000000000000005" stroke="#777" stroke-width="0.5"/><path d="M2 8.8 L11 8.8" stroke="#777" stroke-width="0.5"/><path d="M11 -10.8 L15 -10.8 A4.8 10.8 0 0 1 15 10.8 L11 10.8 A4.8 10.8 0 0 1 11 -10.8 Z" fill="#fff" stroke="#1a1a1a" stroke-width="1.1"/><path d="M14.5 -10.2 L19 -10.2 A4.6 10.2 0 0 1 19 10.2 L14.5 10.2 A4.6 10.2 0 0 1 14.5 -10.2 Z" fill="#fff" stroke="#1a1a1a" stroke-width="1.1"/><path d="M13 -10.6 A4.8 10.6 0 0 1 13 10.6" stroke-width="1.8"/><path d="M18.5 -11.6 L36 -11.6 A5 11.6 0 0 1 36 11.6 L18.5 11.6 A5 11.6 0 0 1 18.5 -11.6 Z" fill="#fff" stroke="#1a1a1a" stroke-width="1.3"/><path d="M21.5 -4.2 L40 -4.6 M22 5.2 L40 4.6" stroke-width="0.9"/><path d="M19 11.6 L36 11.6" stroke-width="2"/><path d="M36 -9 L50 -9 A4.3 9 0 0 1 50 9 L36 9 A4.3 9 0 0 1 36 -9 Z" fill="#fff" stroke="#1a1a1a" stroke-width="1.3"/><path d="M39.5 -9 A4.3 9 0 0 1 39.5 9" stroke-width="1"/><ellipse cx="50" cy="0" rx="4.3" ry="9" fill="#111" stroke="#1a1a1a" stroke-width="1.2"/><path d="M36 9 L50 9" stroke-width="1.8"/></g>

</svg>
<svg width="940" height="788" viewBox="0 0 940 788" fill="none">
<path d="M634 63.8 L672 63.8" stroke="#000" stroke-width="2"/>
<path d="M628.6 63.8 L635.2 59.6 L635.2 68 Z" fill="#000" stroke="#000" stroke-width="0.6"/>
<ellipse cx="672.4" cy="63.8" rx="3.6" ry="3.6" fill="#000" stroke="none"/>
</svg>
</body></html>
